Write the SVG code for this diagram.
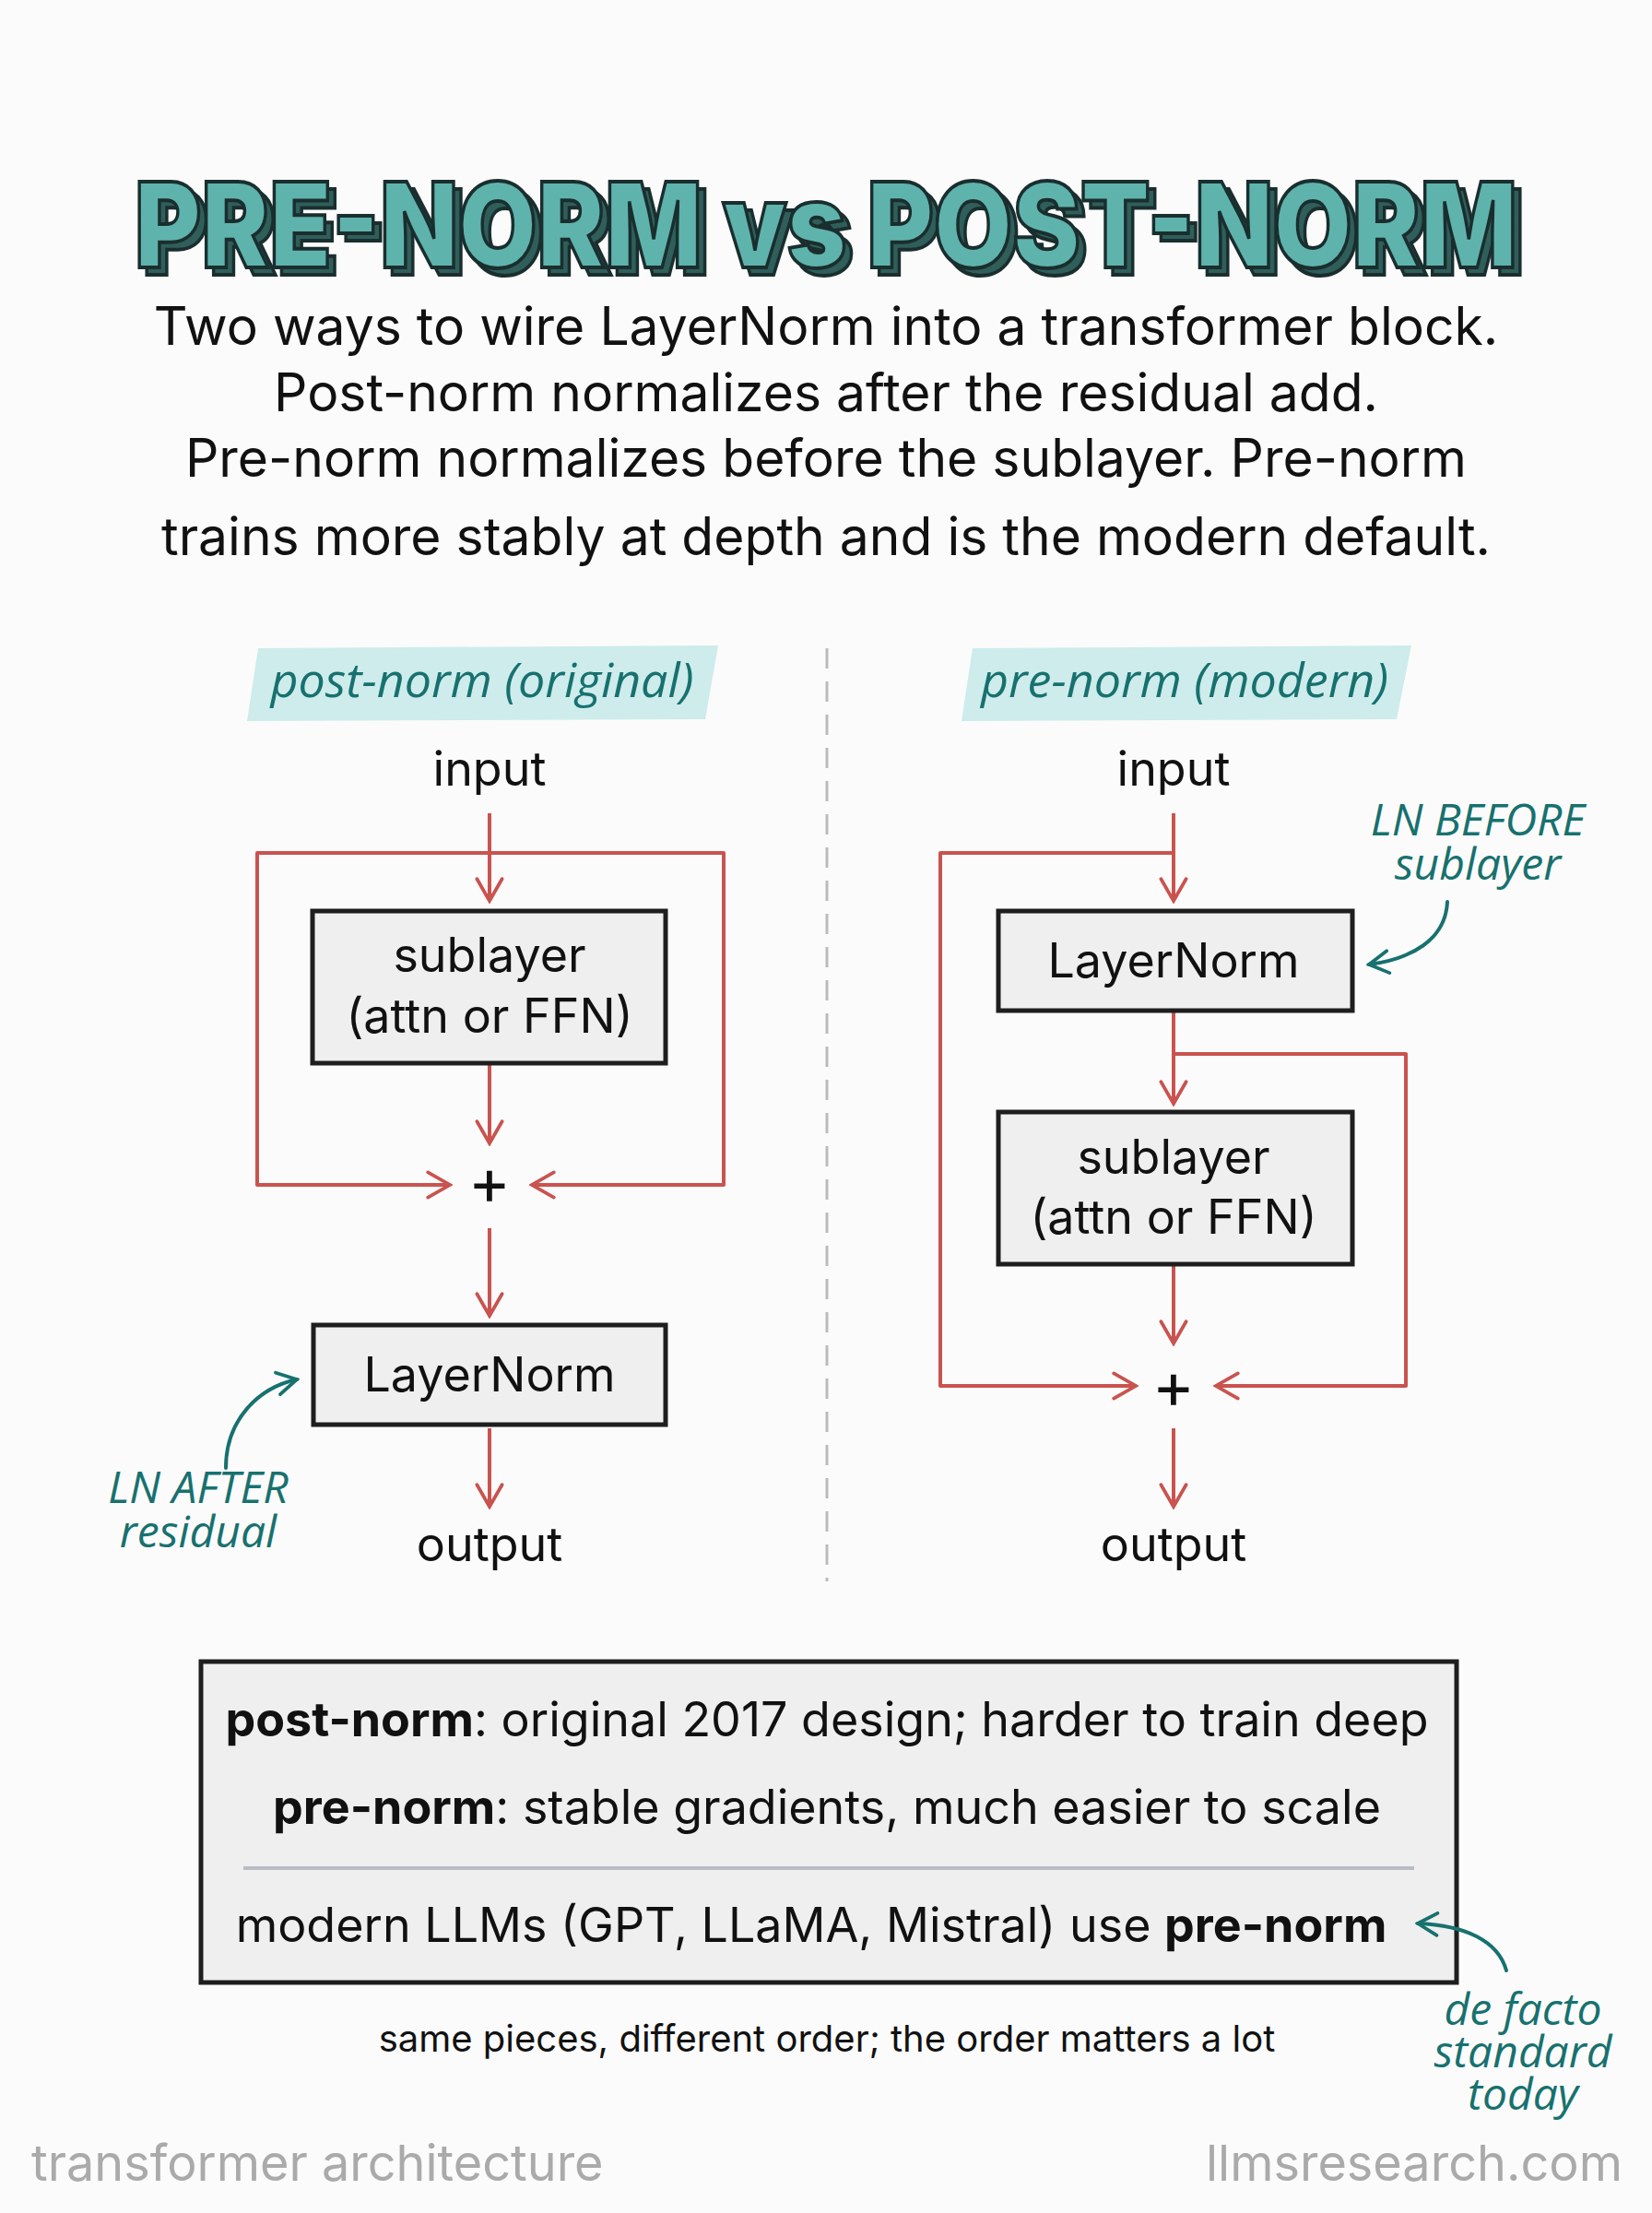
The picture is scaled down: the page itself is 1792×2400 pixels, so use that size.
<svg xmlns="http://www.w3.org/2000/svg" width="1792" height="2400" viewBox="0 0 1792 2400">
<style>
.t{font-family:Inter,"Open Sans","Liberation Sans",sans-serif;fill:#111;text-anchor:middle}
.hand{font-family:"Open Sans","Liberation Sans",sans-serif;font-style:italic;fill:#17716f;text-anchor:middle}
.box{fill:#efefef;stroke:#1e1e1e;stroke-width:5}
.w{fill:none;stroke:#c9534f;stroke-width:4;stroke-linejoin:round}
.ta{fill:none;stroke:#17716f;stroke-width:4;stroke-linecap:round}
</style>
<defs>
<marker id="ar" viewBox="0 0 20 20" refX="18" refY="10" markerWidth="34" markerHeight="34" orient="auto" markerUnits="userSpaceOnUse"><path d="M4,2 L18,10 L4,18" fill="none" stroke="#c9534f" stroke-width="2.2" stroke-linecap="round"/></marker>
<marker id="at" viewBox="0 0 20 20" refX="18" refY="10" markerWidth="30" markerHeight="30" orient="auto" markerUnits="userSpaceOnUse"><path d="M4,2 L18,10 L4,18" fill="none" stroke="#17716f" stroke-width="2.5" stroke-linecap="round"/></marker>
</defs>
<rect width="1792" height="2400" fill="#fbfbfb"/>
<g id="title" font-family="Inter,'Liberation Sans',sans-serif" font-weight="900" font-size="128" text-anchor="middle">
<text x="904" y="298" textLength="1500" lengthAdjust="spacingAndGlyphs" fill="#2f5e5b" stroke="#1a2e2e" stroke-width="4">PRE-NORM vs POST-NORM</text>
<text x="896" y="290" textLength="1500" lengthAdjust="spacingAndGlyphs" fill="#5fb3ad" stroke="#1a2e2e" stroke-width="4">PRE-NORM vs POST-NORM</text>
</g>
<g id="subtitle" class="t" font-size="57">
<text x="896" y="374">Two ways to wire LayerNorm into a transformer block.</text>
<text x="896" y="446">Post-norm normalizes after the residual add.</text>
<text x="896" y="517">Pre-norm normalizes before the sublayer. Pre-norm</text>
<text x="896" y="602">trains more stably at depth and is the modern default.</text>
</g>
<line x1="897" y1="703" x2="897" y2="1715" stroke="#bbb" stroke-width="3" stroke-dasharray="22 14"/>
<g id="label-post"><path d="M280,703 L779,700 L765,780 L268,782 Z" fill="#cdeceb"/><text class="hand" x="523" y="756" font-size="52">post-norm (original)</text></g>
<g id="label-pre"><path d="M1055,703 L1531,700 L1515,780 L1043,782 Z" fill="#cdeceb"/><text class="hand" x="1285" y="756" font-size="52">pre-norm (modern)</text></g>
<g id="connectors">
<path class="w" d="M531,882 V977" marker-end="url(#ar)"/>
<path class="w" d="M531,925 H279 V1285 H488" marker-end="url(#ar)"/>
<path class="w" d="M531,925 H785 V1285 H577" marker-end="url(#ar)"/>
<path class="w" d="M531,1155 V1240" marker-end="url(#ar)"/>
<path class="w" d="M531,1332 V1427" marker-end="url(#ar)"/>
<path class="w" d="M531,1549 V1634" marker-end="url(#ar)"/>
<path class="w" d="M1273,882 V977" marker-end="url(#ar)"/>
<path class="w" d="M1273,925 H1020 V1503 H1232" marker-end="url(#ar)"/>
<path class="w" d="M1273,1097 V1197" marker-end="url(#ar)"/>
<path class="w" d="M1273,1143 H1525 V1503 H1319" marker-end="url(#ar)"/>
<path class="w" d="M1273,1373 V1457" marker-end="url(#ar)"/>
<path class="w" d="M1273,1549 V1634" marker-end="url(#ar)"/>
<path class="ta" d="M245,1592 C245,1540 280,1505 322,1496" marker-end="url(#at)"/>
<path class="ta" d="M1570,978 C1568,1020 1530,1040 1485,1046" marker-end="url(#at)"/>
</g>
<g id="post-input"><text class="t" x="531" y="852" font-size="52">input</text></g>
<g id="post-sublayer"><rect class="box" x="339" y="988" width="383" height="165"/><text class="t" x="531" y="1054" font-size="52">sublayer</text><text class="t" x="531" y="1120" font-size="52">(attn or FFN)</text></g>
<g id="post-plus"><text class="t" x="531" y="1306" font-size="70">+</text></g>
<g id="post-ln"><rect class="box" x="340" y="1437" width="382" height="108"/><text class="t" x="531" y="1509" font-size="52">LayerNorm</text></g>
<g id="post-output"><text class="t" x="531" y="1693" font-size="52">output</text></g>
<g id="note-after"><text class="hand" x="215" y="1630" font-size="48">LN AFTER</text><text class="hand" x="215" y="1678" font-size="48">residual</text></g>
<g id="pre-input"><text class="t" x="1273" y="852" font-size="52">input</text></g>
<g id="pre-ln"><rect class="box" x="1083" y="988" width="384" height="108"/><text class="t" x="1273" y="1060" font-size="52">LayerNorm</text></g>
<g id="pre-sublayer"><rect class="box" x="1083" y="1206" width="384" height="165"/><text class="t" x="1273" y="1273" font-size="52">sublayer</text><text class="t" x="1273" y="1338" font-size="52">(attn or FFN)</text></g>
<g id="pre-plus"><text class="t" x="1273" y="1527" font-size="70">+</text></g>
<g id="pre-output"><text class="t" x="1273" y="1693" font-size="52">output</text></g>
<g id="note-before"><text class="hand" x="1603" y="906" font-size="48">LN BEFORE</text><text class="hand" x="1603" y="954" font-size="48">sublayer</text></g>
<g id="summary">
<rect class="box" x="218" y="1802" width="1362" height="348"/>
<text class="t" x="897" y="1883" font-size="52"><tspan font-weight="bold">post-norm</tspan>: original 2017 design; harder to train deep</text>
<text class="t" x="897" y="1978" font-size="52"><tspan font-weight="bold">pre-norm</tspan>: stable gradients, much easier to scale</text>
<line x1="264" y1="2026" x2="1534" y2="2026" stroke="#b8bcc4" stroke-width="4"/>
<text class="t" x="880" y="2106" font-size="52">modern LLMs (GPT, LLaMA, Mistral) use <tspan font-weight="bold">pre-norm</tspan></text>
</g>
<path class="ta" d="M1634,2137 C1625,2105 1590,2088 1538,2086" marker-end="url(#at)"/>
<g id="note-defacto"><text class="hand" x="1652" y="2196" font-size="48">de facto</text><text class="hand" x="1652" y="2242" font-size="48">standard</text><text class="hand" x="1652" y="2288" font-size="48">today</text></g>
<text class="t" x="897" y="2225" font-size="40">same pieces, different order; the order matters a lot</text>
<text x="34" y="2365" font-family="Inter,'Liberation Sans',sans-serif" font-size="54" fill="#aaa">transformer architecture</text>
<text x="1760" y="2365" font-family="Inter,'Liberation Sans',sans-serif" font-size="54" fill="#aaa" text-anchor="end">llmsresearch.com</text>
</svg>
